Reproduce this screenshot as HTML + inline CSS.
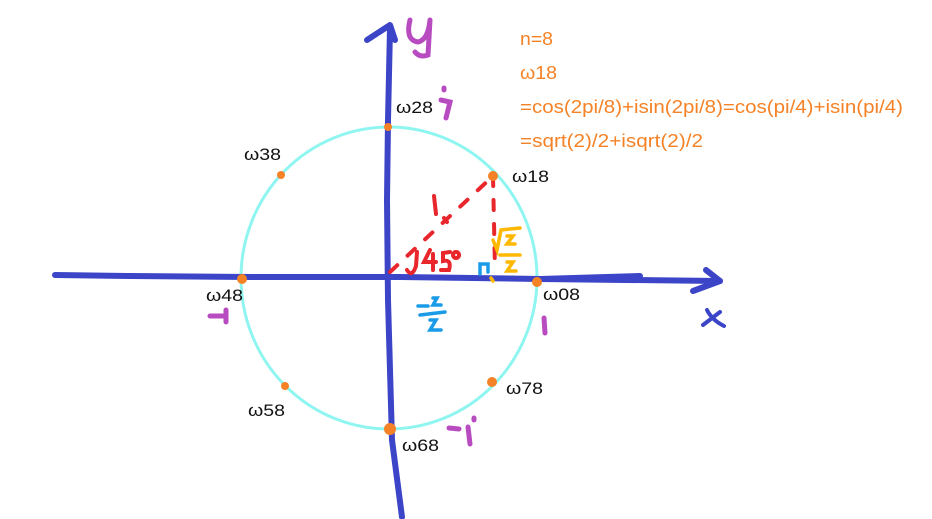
<!DOCTYPE html>
<html><head><meta charset="utf-8"><style>
html,body{margin:0;padding:0;background:#fff;width:932px;height:519px;overflow:hidden}
svg{display:block}
text{font-family:"Liberation Sans","DejaVu Sans",sans-serif}
</style></head><body>
<svg width="932" height="519" viewBox="0 0 932 519" xmlns="http://www.w3.org/2000/svg">
<ellipse cx="389" cy="278" rx="148" ry="151" fill="none" stroke="#8ff5f0" stroke-width="3"/>
<g stroke="#3c45c8" stroke-width="6" fill="none" stroke-linecap="round" stroke-linejoin="round">
<path d="M55 275 L130 276 L250 277 L400 277 L540 279 L640 276"/>
<path d="M540 279 L720 281"/>
<path d="M706 270 L720 281 L693 291"/>
<path d="M402 517 L392 440 L388 300 L387 200 L388 120 L390 28"/>
<path d="M367 40 L390 25 L395 40"/>
</g>
<g stroke="#3c45c8" stroke-width="4" fill="none" stroke-linecap="round">
<path d="M703 325 L720 312 M707 310 Q712 320 724 326"/>
</g>
<g stroke="#b84bc0" stroke-width="5" fill="none" stroke-linecap="round">
<path d="M410 20 Q405 40 418 42 Q428 40 430 20 M430 20 L428 55 Q420 58 415 52"/>
<path d="M210 316 L226 316 M226 310 L226 322"/>
<path d="M544 318 L545 333"/>
<path d="M449 428 L459 429 M468 427 L470 444 M474 418 L474 420"/>
<path d="M441 100 L450 102 L446 118 M444 88 L444 90"/>
</g>
<g stroke="#e8262c" stroke-width="4" fill="none" stroke-linecap="round" stroke-dasharray="10 14">
<path d="M390 272 L493 176"/>
<path d="M493 176 L495 270"/>
</g>
<g stroke="#e8262c" stroke-width="4" fill="none" stroke-linecap="round">
<path d="M434 196 L436 214 M444 218 L447 222"/>
<path d="M417 252 L416 266 Q412 278 407 270"/>
<path d="M430 250 L424 262 L436 262 M433 254 L433 270"/>
<path d="M450 252 L443 253 L443 261 Q452 259 449 270 L441 270"/>
<path d="M456 252 a3 3 0 1 0 0.1 0"/>
</g>
<g stroke="#ffb800" stroke-width="3.5" fill="none" stroke-linecap="round">
<path d="M493 240 L497 250 L501 230 L520 228 M507 236 L513 236 L507 244 L515 244"/>
<path d="M500 255 L520 255 M507 262 L513 262 L507 271 L516 271"/>
<path d="M491 278 L493 281"/>
</g>
<g stroke="#1a9be8" stroke-width="3.5" fill="none" stroke-linecap="round">
<path d="M480 274 L480 264 L488 264 L488 272"/>
<path d="M418 306 L428 306 M433 298 L437 298 L433 305 L441 305 M420 315 L445 312 M430 320 L436 320 L430 330 L441 330"/>
</g>
<g fill="#f58226">
<circle cx="388" cy="127" r="4"/><circle cx="493" cy="176" r="5"/><circle cx="281" cy="175" r="4"/>
<circle cx="242" cy="279" r="5"/><circle cx="537" cy="282" r="5"/><circle cx="285" cy="386" r="4"/>
<circle cx="492" cy="382" r="5"/><circle cx="390" cy="429" r="6"/>
</g>
<g font-size="17" fill="#111">
<text x="396" y="113" textLength="37" lengthAdjust="spacingAndGlyphs">ω28</text>
<text x="244" y="160" textLength="37" lengthAdjust="spacingAndGlyphs">ω38</text>
<text x="512" y="182" textLength="37" lengthAdjust="spacingAndGlyphs">ω18</text>
<text x="206" y="301" textLength="37" lengthAdjust="spacingAndGlyphs">ω48</text>
<text x="543" y="300" textLength="37" lengthAdjust="spacingAndGlyphs">ω08</text>
<text x="248" y="416" textLength="37" lengthAdjust="spacingAndGlyphs">ω58</text>
<text x="506" y="394" textLength="37" lengthAdjust="spacingAndGlyphs">ω78</text>
<text x="402" y="451" textLength="37" lengthAdjust="spacingAndGlyphs">ω68</text>
</g>
<g font-size="18" fill="#f58226">
<text x="520" y="45" textLength="33" lengthAdjust="spacingAndGlyphs">n=8</text>
<text x="520" y="79" textLength="37" lengthAdjust="spacingAndGlyphs">ω18</text>
<text x="520" y="113" textLength="383" lengthAdjust="spacingAndGlyphs">=cos(2pi/8)+isin(2pi/8)=cos(pi/4)+isin(pi/4)</text>
<text x="520" y="147" textLength="183" lengthAdjust="spacingAndGlyphs">=sqrt(2)/2+isqrt(2)/2</text>
</g>
</svg>
</body></html>
